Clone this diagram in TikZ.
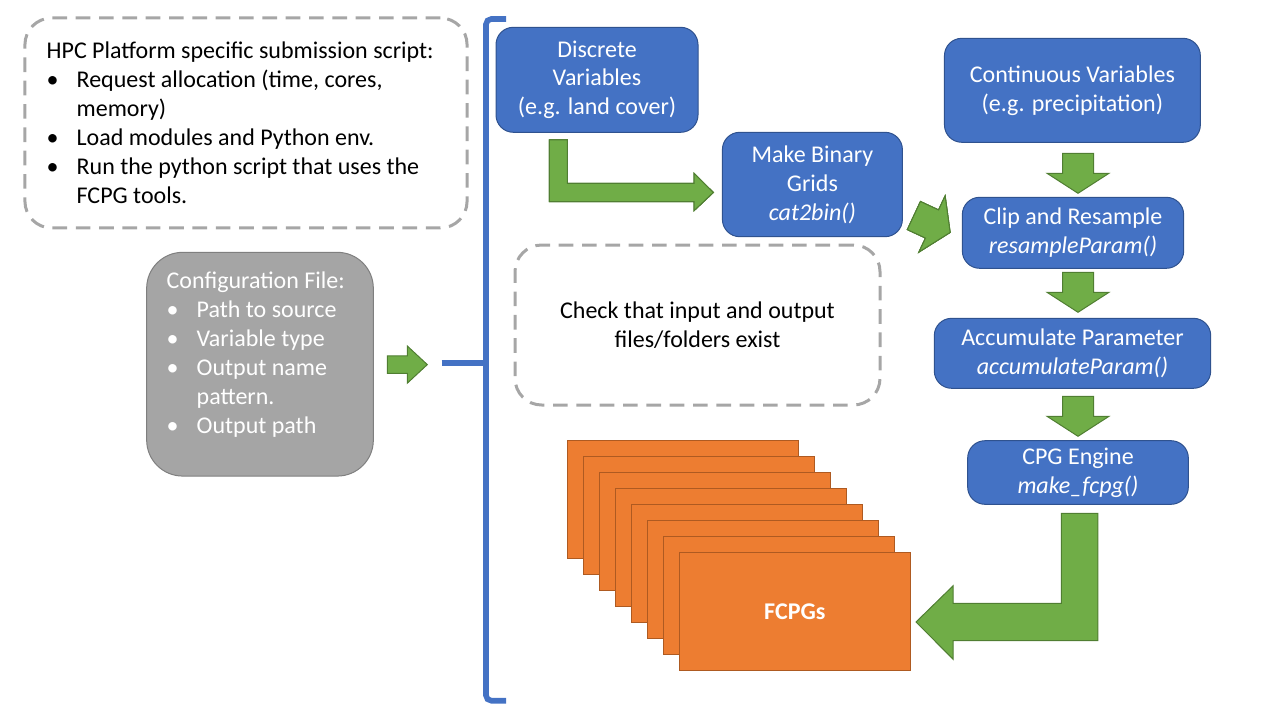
\documentclass[tikz,border=0pt]{standalone}
\usepackage{fontspec}
\setmainfont{Carlito}
\usepackage{tikz}
\definecolor{boxblue}{HTML}{4472C4}
\definecolor{blueedge}{HTML}{2F528F}
\definecolor{arrgreen}{HTML}{70AD47}
\definecolor{greenedge}{HTML}{507E32}
\definecolor{sheetorange}{HTML}{ED7D31}
\definecolor{sheetedge}{HTML}{AE5A21}
\definecolor{cfggray}{HTML}{A5A5A5}
\definecolor{cfgedge}{HTML}{7F7F7F}
\definecolor{dashgray}{HTML}{A6A6A6}
\newcommand{\itm}{\makebox[22.5pt][l]{\textbullet}}
% block arrow: centre x, centre y, angle, half shaft, half head
\newcommand{\garrow}[5]{\filldraw[fill=arrgreen, draw=greenedge, line width=0.75pt, shift={(#1,#2)}, rotate=#3]
  (-20,-#4) -- (0,-#4) -- (0,-#5) -- (20,0) -- (0,#5) -- (0,#4) -- (-20,#4) -- cycle;}

\begin{document}
\begin{tikzpicture}[x=0.75pt, y=-0.75pt,
    every node/.style={font=\fontsize{18}{21.7}\selectfont},
    bluebox/.style={draw=blueedge, fill=boxblue, line width=0.75pt, rounded corners=13pt, text=white, align=center, inner sep=0pt},
    dashbox/.style={draw=dashgray, line width=2.25pt, dash pattern=on 11pt off 6.5pt, rounded corners=20pt},
    sheet/.style={draw=sheetedge, fill=sheetorange, line width=0.75pt, minimum width=173.25pt, minimum height=88.5pt}]
  \useasboundingbox (0,0) rectangle (1280,720);

  % left column
  \node[dashbox, align=flush left, text width=299pt, inner xsep=16.3pt, minimum height=157.5pt] (hpc) at (246,123)
    {HPC Platform specific submission script:\\
     \itm Request allocation (time, cores,\\
     \hspace*{22.5pt}memory)\\
     \itm Load modules and Python env.\\
     \itm Run the python script that uses the\\
     \hspace*{22.5pt}FCPG tools.};
  \node[draw=cfgedge, fill=cfggray, line width=0.75pt, rounded corners=27pt, text=white, align=flush left,
    text width=140pt, inner xsep=15pt, minimum height=167.8pt] (cfg) at (260,364.2)
    {Configuration File:\\
     \itm Path to source\\
     \itm Variable type\\
     \itm Output name\\
     \hspace*{22.5pt}pattern.\\
     \itm Output path\par\vspace*{14pt}};
  \garrow{407.3}{364.6}{0}{8.8}{18.6}

  % bracket
  \coordinate (brace) at (441.7,362.7);
  \draw[boxblue, line width=4.2pt, rounded corners=4pt] (506,19) -- (486,19) -- (486,700.7) -- (506,700.7);
  \draw[boxblue, line width=4.2pt] (brace) -- (486,362.7);

  % steps
  \node[bluebox, minimum width=151.5pt, minimum height=78.75pt] (disc) at (597,79.8) {Discrete\\Variables\\(e.g. land cover)};
  \node[bluebox, minimum width=135pt, minimum height=78.3pt] (bin) at (812.4,184.5) {Make Binary\\Grids\\\textit{cat2bin()}};
  \node[bluebox, minimum width=191.9pt, minimum height=78pt] (cont) at (1072.4,90.3) {Continuous Variables\\(e.g. precipitation)};
  \node[bluebox, minimum width=166pt, minimum height=53.25pt] (clip) at (1073,232.8) {Clip and Resample\\\textit{resampleParam()}};
  \node[bluebox, minimum width=207.3pt, minimum height=52.5pt] (acc) at (1072.5,353.3) {Accumulate Parameter\\\textit{accumulateParam()}};
  \node[bluebox, minimum width=165.5pt, minimum height=47.7pt] (cpg) at (1078,472.5) {CPG Engine\\\textit{make\_fcpg()}};

  \node[dashbox, align=center, minimum width=273.75pt, minimum height=120pt] (check) at (697.5,325)
    {Check that input and output\\files/folders exist};

  % output stack
  \foreach \i in {0,...,6}
    \node[sheet] (fcpg\i) at (682.8+16*\i, 499.3+16*\i) {};
  \node[sheet, text=white, font=\fontsize{18}{21.7}\selectfont\bfseries] (fcpg7) at (794.8,611.3) {FCPGs};

  % green arrows
  \foreach \y in {173.3,292.3,416.3}
    \garrow{1078}{\y}{-90}{15.5}{31}
  \garrow{932}{224}{-25}{15.5}{31}
  \filldraw[fill=arrgreen, draw=greenedge, line width=0.75pt] (549.3,140) -- (567.3,140) -- (567.3,183.3) -- (694,183.3)
    -- (694,173.3) -- (713.3,192.5) -- (694,210.7) -- (694,201.7) -- (549.3,201.7) -- cycle;
  \filldraw[fill=arrgreen, draw=greenedge, line width=0.75pt] (1097.9,513.3) -- (1097.9,640.7) -- (953.2,640.7)
    -- (953.2,659.3) -- (916,622) -- (953.2,585.7) -- (953.2,603.3) -- (1061.4,603.3) -- (1061.4,513.3) -- cycle;
\end{tikzpicture}
\end{document}
